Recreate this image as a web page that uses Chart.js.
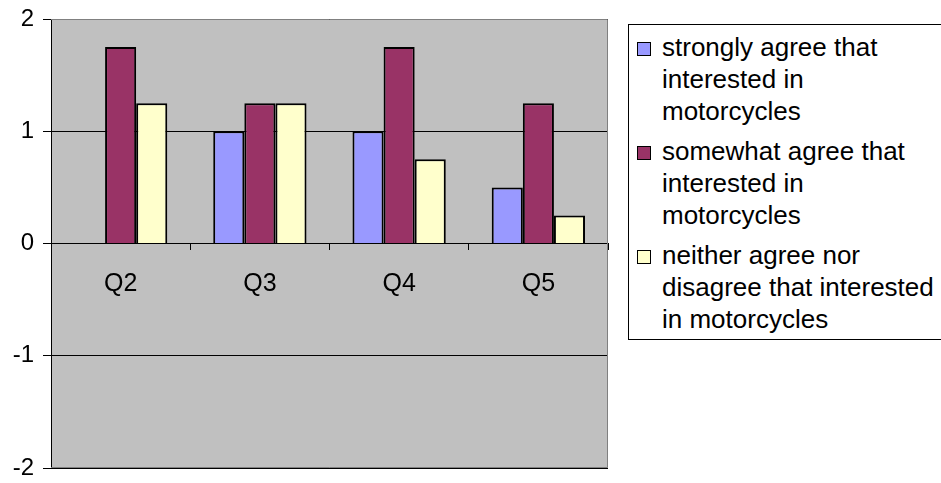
<!DOCTYPE html>
<html>
<head>
<meta charset="utf-8">
<script src="https://cdn.jsdelivr.net/npm/chart.js@4"></script>
<style>
  body { margin: 0; background: #fff; }
  #wrap { position: relative; width: 941px; height: 483px; overflow: hidden; }
  #legend {
    position: absolute; left: 628px; top: 24px; width: 340px; height: 316px;
    box-sizing: border-box; border: 1px solid #000; background: #fff;
    padding-top: 6px; font-family: 'Liberation Sans', Arial, sans-serif; font-size: 26px;
    line-height: 32px; color: #000;
  }
  .item { position: relative; padding-left: 33px; width: 285px; margin-bottom: 8px; }
  .swatch { position: absolute; left: 8px; top: 11px; width: 12px; height: 12px; border: 1px solid #000; }
</style>
</head>
<body>
<div id="wrap">
  <canvas id="chart" width="941" height="483"></canvas>
  <div id="legend"></div>
</div>
<script>
// categories and series
const categories = ['Q2', 'Q3', 'Q4', 'Q5'];
const seriesNames = [
  'strongly agree that interested in motorcycles',
  'somewhat agree that interested in motorcycles',
  'neither agree nor disagree that interested in motorcycles'
];
const stronglyAgree = [0, 1, 1, 0.5];
const somewhatAgree = [1.75, 1.25, 1.75, 1.25];
const neitherAgree = [1.25, 1.25, 0.75, 0.25];
const yTicks = [-2, -1, 0, 1, 2];

const colors = ['#9999ff', '#993366', '#ffffcc'];
const seriesValues = [stronglyAgree, somewhatAgree, neitherAgree];

Chart.defaults.font.family = "'Liberation Sans', Arial, sans-serif";
Chart.defaults.color = '#000';

// grey plot area + thin grey frame
const plotBox = {
  id: 'plotBox',
  beforeDraw(chart) {
    const a = chart.chartArea, ctx = chart.ctx;
    ctx.save();
    ctx.fillStyle = '#c0c0c0';
    ctx.fillRect(a.left, a.top, a.right - a.left, a.bottom - a.top);
    ctx.restore();
  },
  afterDraw(chart) {
    const a = chart.chartArea, ctx = chart.ctx;
    ctx.save();
    ctx.strokeStyle = '#808080';
    ctx.lineWidth = 1;
    ctx.beginPath();
    ctx.moveTo(a.left, a.top + 0.5);
    ctx.lineTo(a.right - 0.5, a.top + 0.5);
    ctx.lineTo(a.right - 0.5, a.bottom - 0.5);
    ctx.lineTo(a.left, a.bottom - 0.5);
    ctx.stroke();
    ctx.restore();
  }
};

const chart = new Chart(document.getElementById('chart').getContext('2d'), {
  type: 'bar',
  data: {
    labels: categories,
    datasets: seriesValues.map((vals, i) => ({
      label: seriesNames[i],
      data: vals,
      backgroundColor: colors[i],
      borderColor: '#000',
      borderWidth: 2,
      categoryPercentage: 0.67,
      barPercentage: 1.0
    }))
  },
  options: {
    responsive: false,
    animation: false,
    layout: { padding: { top: 19, bottom: 15, left: 0, right: 333 } },
    plugins: { legend: { display: false }, tooltip: { enabled: false } },
    scales: {
      x: {
        position: { y: 0 },
        grid: { display: true, drawOnChartArea: false, drawTicks: true, tickLength: 6, color: '#000' },
        border: { display: true, color: '#000' },
        ticks: { font: { size: 25 }, padding: 20 }
      },
      y: {
        min: -2,
        max: 2,
        afterFit(scale) {
          scale.width = 51;
          scale.paddingTop = 0;
          scale.paddingBottom = 0;
        },
        afterBuildTicks(scale) { scale.ticks = yTicks.map(v => ({ value: v })); },
        grid: { color: '#000', tickLength: 8 },
        border: { color: '#000' },
        ticks: { font: { size: 24 }, padding: 9 }
      }
    }
  },
  plugins: [plotBox]
});

// legend as html, built from the same series
const legend = document.getElementById('legend');
seriesNames.forEach((name, i) => {
  const item = document.createElement('div');
  item.className = 'item';
  item.innerHTML = '<span class="swatch" style="background:' + colors[i] + '"></span>' + name;
  legend.appendChild(item);
});
</script>
</body>
</html>
